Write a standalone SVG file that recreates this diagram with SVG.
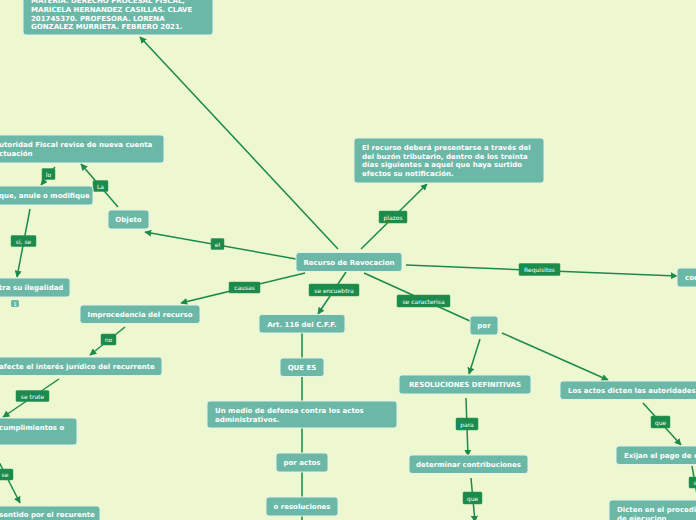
<svg xmlns="http://www.w3.org/2000/svg" width="696" height="520" viewBox="0 0 696 520">
<defs>
<marker id="ah" viewBox="0 0 10 10" refX="9" refY="5" markerWidth="7" markerHeight="7" orient="auto" markerUnits="userSpaceOnUse">
<path d="M0,0 L10,5 L0,10 z" fill="#1b8a4a"/>
</marker>
<style>
.n{fill:#6bb8a7;stroke:#e4f3ea;stroke-width:1}
.t{font-family:"DejaVu Sans",Verdana,sans-serif;font-weight:bold;font-size:7px;fill:#ffffff}
.c{stroke:#1b8a4a;stroke-width:1.5;fill:none}
.a{marker-end:url(#ah)}
.l{fill:#1b8a4a;stroke:#2a9a5a;stroke-width:0.5}
.lt{font-family:"DejaVu Sans",Verdana,sans-serif;font-size:6px;fill:#ffffff;text-anchor:middle}
</style>
</defs>
<rect width="696" height="520" fill="#eef8d0"/>
<g id="connectors">
<line class="c a" x1="338" y1="249" x2="140" y2="37"/>
<line class="c a" x1="296" y1="259" x2="145" y2="232"/>
<line class="c a" x1="118" y1="207" x2="81" y2="164"/>
<line class="c a" x1="55" y1="167" x2="41" y2="185"/>
<line class="c a" x1="30" y1="209" x2="17" y2="277"/>
<line class="c a" x1="305" y1="273" x2="181" y2="303"/>
<line class="c a" x1="125" y1="327" x2="90" y2="355"/>
<line class="c a" x1="59" y1="379" x2="3" y2="417"/>
<line class="c a" x1="-2" y1="460" x2="20" y2="503"/>
<line class="c a" x1="346" y1="272" x2="318" y2="314"/>
<line class="c" x1="302" y1="332" x2="302" y2="520"/>
<line class="c a" x1="361" y1="249" x2="427" y2="184"/>
<line class="c a" x1="406" y1="265" x2="677" y2="276"/>
<line class="c" x1="364" y1="273" x2="470" y2="321"/>
<line class="c a" x1="480" y1="339" x2="469" y2="374"/>
<line class="c a" x1="502" y1="333" x2="608" y2="380"/>
<line class="c a" x1="466" y1="398" x2="468" y2="456"/>
<line class="c a" x1="471" y1="478" x2="475" y2="522"/>
<line class="c a" x1="643" y1="403" x2="681" y2="445"/>
<line class="c" x1="692" y1="466" x2="698" y2="500"/>
<g id="labels">
<rect class="l" x="211" y="238.5" width="13" height="11" rx="1"/><text class="lt" x="217.5" y="246.5">el</text>
<rect class="l" x="93" y="180.5" width="15" height="11" rx="1"/><text class="lt" x="100.5" y="188.5">La</text>
<rect class="l" x="42" y="168.5" width="13" height="11" rx="1"/><text class="lt" x="48.5" y="176.5">lo</text>
<rect class="l" x="11" y="235.5" width="25" height="11" rx="1"/><text class="lt" x="23.5" y="243.5">si, se</text>
<rect class="l" x="229" y="282" width="31" height="11" rx="1"/><text class="lt" x="244.5" y="290">causas</text>
<rect class="l" x="101" y="334" width="15" height="11" rx="1"/><text class="lt" x="108.5" y="342">no</text>
<rect class="l" x="16" y="390.5" width="33" height="11" rx="1"/><text class="lt" x="32.5" y="398.5">se trate</text>
<rect class="l" x="-4" y="469" width="17" height="11" rx="1"/><text class="lt" x="5" y="477">se</text>
<rect class="l" x="309" y="284" width="50" height="12" rx="1"/><text class="lt" x="334" y="292.5">se encuebtra</text>
<rect class="l" x="379" y="211" width="28" height="12" rx="1"/><text class="lt" x="393" y="219.5">plazos</text>
<rect class="l" x="519" y="263.5" width="41" height="12" rx="1"/><text class="lt" x="539.5" y="272">Requisitos</text>
<rect class="l" x="397" y="295" width="53" height="12" rx="1"/><text class="lt" x="423.5" y="303.5">se caracterisa</text>
<rect class="l" x="456" y="418" width="22" height="12" rx="1"/><text class="lt" x="467" y="426.5">para</text>
<rect class="l" x="463" y="492" width="19" height="12" rx="1"/><text class="lt" x="472.5" y="500.5">que</text>
<rect class="l" x="651" y="416" width="19" height="12" rx="1"/><text class="lt" x="660.5" y="424.5">que</text>
<rect class="l" x="689" y="477" width="20" height="11" rx="1"/><text class="lt" x="695" y="485">s</text>
</g>
</g>
<g id="n-top"><rect class="n" x="23" y="-30" width="190" height="65" rx="3"/>
<text class="t" x="31" y="3">MATERIA. DERECHO PROCESAL FISCAL,</text>
<text class="t" x="31" y="12">MARICELA HERNANDEZ CASILLAS. CLAVE</text>
<text class="t" x="31" y="20.5">201745370. PROFESORA. LORENA</text>
<text class="t" x="31" y="29">GONZALEZ MURRIETA. FEBRERO 2021.</text></g>
<g id="n-recurso"><rect class="n" x="296" y="252.5" width="106" height="19" rx="3"/>
<text class="t" x="349" y="264.5" text-anchor="middle">Recurso de Revocacion</text></g>
<g id="n-objeto"><rect class="n" x="108" y="210" width="41" height="19" rx="3"/>
<text class="t" x="128.5" y="222" text-anchor="middle">Objeto</text></g>
<g id="n-autoridad"><rect class="n" x="-10" y="135" width="174" height="28" rx="3"/>
<text class="t" x="-1" y="147">utoridad Fiscal revise de nueva cuenta</text>
<text class="t" x="-1" y="156">ctuación</text></g>
<g id="n-anule"><rect class="n" x="-10" y="186" width="103" height="19" rx="3"/>
<text class="t" x="-1" y="198">que, anule o modifique</text></g>
<g id="n-ilegalidad"><rect class="n" x="-10" y="278" width="80" height="19" rx="3"/>
<text class="t" x="-1" y="290">tra su ilegalidad</text></g>
<g id="n-badge"><rect x="11" y="300" width="8" height="7" rx="1.5" fill="#6bb8a7"/>
<text x="15" y="305.5" font-family="DejaVu Sans,sans-serif" font-size="5" fill="#ffffff" text-anchor="middle">1</text></g>
<g id="n-improcedencia"><rect class="n" x="80" y="305" width="120" height="18.5" rx="3"/>
<text class="t" x="140" y="316.5" text-anchor="middle">Improcedencia del recurso</text></g>
<g id="n-afecte"><rect class="n" x="-10" y="357" width="172" height="18.5" rx="3"/>
<text class="t" x="-1" y="368.5">afecte el interés jurídico del recurrente</text></g>
<g id="n-cumplimientos"><rect class="n" x="-10" y="418" width="87" height="27" rx="3"/>
<text class="t" x="-1" y="430">cumplimientos o</text></g>
<g id="n-sentido"><rect class="n" x="-10" y="506" width="110" height="20" rx="3"/>
<text class="t" x="-1" y="517">sentido por el recurente</text></g>
<g id="n-art"><rect class="n" x="259" y="314.5" width="86" height="18.5" rx="3"/>
<text class="t" x="302" y="326.5" text-anchor="middle">Art. 116 del C.F.F.</text></g>
<g id="n-quees"><rect class="n" x="280" y="358" width="44" height="18.5" rx="3"/>
<text class="t" x="302" y="370" text-anchor="middle">QUE ES</text></g>
<g id="n-medio"><rect class="n" x="207" y="401" width="190" height="27" rx="3"/>
<text class="t" x="215" y="413">Un medio de defensa contra los actos</text>
<text class="t" x="215" y="422">administrativos.</text></g>
<g id="n-poractos"><rect class="n" x="276" y="453" width="52" height="19" rx="3"/>
<text class="t" x="302" y="465" text-anchor="middle">por actos</text></g>
<g id="n-resoluciones"><rect class="n" x="266" y="497" width="72" height="19" rx="3"/>
<text class="t" x="302" y="509" text-anchor="middle">o resoluciones</text></g>
<g id="n-plazo"><rect class="n" x="354" y="138" width="190" height="45" rx="3"/>
<text class="t" x="362" y="150">El recurso deberá presentarse a través del</text>
<text class="t" x="362" y="158.5">del buzón tributario, dentro de los treinta</text>
<text class="t" x="362" y="167">días siguientes a aquel que haya surtido</text>
<text class="t" x="362" y="175.5">efectos su notificación.</text></g>
<g id="n-con"><rect class="n" x="677" y="268" width="30" height="19" rx="3"/>
<text class="t" x="685" y="280">con</text></g>
<g id="n-por"><rect class="n" x="470" y="316" width="28" height="19" rx="3"/>
<text class="t" x="484" y="328" text-anchor="middle">por</text></g>
<g id="n-resdef"><rect class="n" x="399" y="375" width="132" height="19" rx="3"/>
<text class="t" x="465" y="387" text-anchor="middle">RESOLUCIONES DEFINITIVAS</text></g>
<g id="n-losactos"><rect class="n" x="560" y="381" width="150" height="18.5" rx="3"/>
<text class="t" x="568" y="392.5">Los actos dicten las autoridades</text></g>
<g id="n-determinar"><rect class="n" x="409" y="455" width="119" height="18.5" rx="3"/>
<text class="t" x="468.5" y="467" text-anchor="middle">determinar contribuciones</text></g>
<g id="n-exijan"><rect class="n" x="616" y="446" width="90" height="18.5" rx="3"/>
<text class="t" x="624" y="458">Exijan el pago de c</text></g>
<g id="n-dicten"><rect class="n" x="609" y="500" width="97" height="28" rx="3"/>
<text class="t" x="617" y="512">Dicten en el procedim</text>
<text class="t" x="617" y="521">de ejecucion</text></g>
</svg>
